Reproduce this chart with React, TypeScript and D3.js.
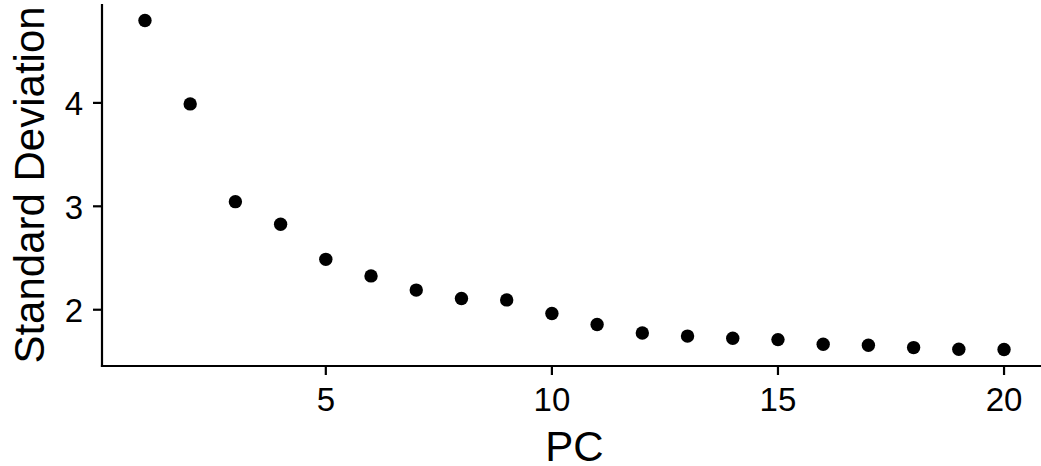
import React from "react";
import * as d3 from "d3";

const pcs = [1, 2, 3, 4, 5, 6, 7, 8, 9, 10, 11, 12, 13, 14, 15, 16, 17, 18, 19, 20];
const stdev = [4.797, 3.99, 3.045, 2.826, 2.487, 2.327, 2.19, 2.108, 2.095, 1.963, 1.857, 1.775, 1.745, 1.724, 1.711, 1.666, 1.656, 1.634, 1.618, 1.615];
const xTicks = [5, 10, 15, 20];
const yTicks = [2, 3, 4];

const W = 1041;
const H = 466;
const FONT = "'Liberation Sans', Arial, Helvetica, sans-serif";

export default function App() {
  const xMin = d3.min(pcs)!;
  const xMax = d3.max(pcs)!;
  const xPad = (xMax - xMin) * 0.05;
  const yMin = d3.min(stdev)!;
  const yMax = d3.max(stdev)!;
  const yPad = (yMax - yMin) * 0.05;

  const left = 102;
  const right = 1047;
  const top = 4;
  const bottom = 366;

  const x = d3.scaleLinear().domain([xMin - xPad, xMax + xPad]).range([left, right]);
  const y = d3.scaleLinear().domain([yMin - yPad, yMax + yPad]).range([bottom, top]);

  const stroke = "#000";
  const lw = 2.2;
  const tickLen = 9;

  return (
    <svg width={W} height={H} style={{ position: "absolute", left: 0, top: 0, background: "#fff" }}>
      <rect x={0} y={0} width={W} height={H} fill="#fff" />
      {pcs.map((p, i) => (
        <circle key={p} cx={x(p)} cy={y(stdev[i])} r={6.7} fill="#000" />
      ))}
      <line x1={left} x2={left} y1={top} y2={bottom + lw / 2} stroke={stroke} strokeWidth={lw} />
      <line x1={left - lw / 2} x2={W} y1={bottom} y2={bottom} stroke={stroke} strokeWidth={lw} />
      {yTicks.map((t) => (
        <g key={t}>
          <line x1={left - tickLen} x2={left} y1={y(t)} y2={y(t)} stroke={stroke} strokeWidth={lw} />
          <text x={left - tickLen - 10} y={y(t) + 12.5} textAnchor="end" fontFamily={FONT} fontSize={33} fill="#000">
            {t}
          </text>
        </g>
      ))}
      {xTicks.map((t) => (
        <g key={t}>
          <line x1={x(t)} x2={x(t)} y1={bottom} y2={bottom + tickLen} stroke={stroke} strokeWidth={lw} />
          <text x={x(t)} y={411} textAnchor="middle" fontFamily={FONT} fontSize={33} fill="#000">
            {t}
          </text>
        </g>
      ))}
      <text x={(left + right) / 2} y={461} textAnchor="middle" fontFamily={FONT} fontSize={42} fill="#000">
        PC
      </text>
      <text
        transform={`translate(43.5, ${(top + bottom) / 2}) rotate(-90)`}
        textAnchor="middle"
        fontFamily={FONT}
        fontSize={42}
        fill="#000"
      >
        Standard Deviation
      </text>
    </svg>
  );
}
